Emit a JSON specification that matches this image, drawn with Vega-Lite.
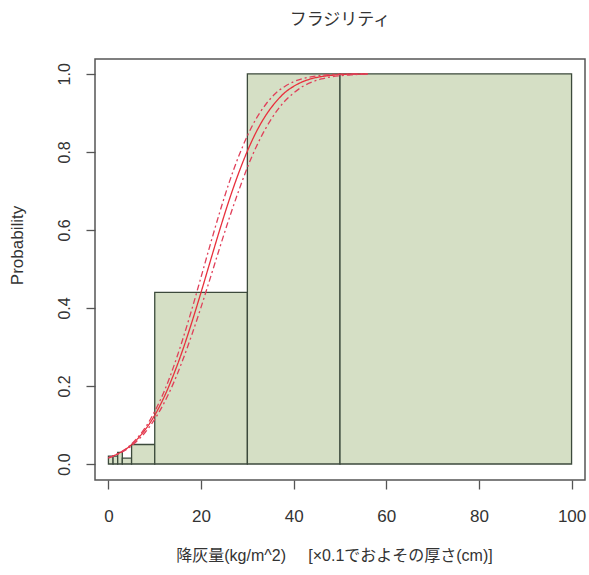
{
  "$schema": "https://vega.github.io/schema/vega-lite/v6.json",
  "width": 490,
  "height": 421,
  "autosize": "none",
  "padding": {"left": 95, "top": 59, "right": 4, "bottom": 95},
  "background": "white",
  "config": {
    "font": "Liberation Sans, Noto Sans CJK JP",
    "view": {"stroke": "#555555", "strokeWidth": 1.5},
    "axis": {"grid": false, "domain": false, "tickColor": "#555555", "tickSize": 9, "tickWidth": 1.3, "labelColor": "#333333", "titleColor": "#333333", "labelFont": "Liberation Sans", "titleFontWeight": "normal", "labelFontSize": 16, "titleFontSize": 16}
  },
  "title": {"text": "フラジリティ", "font": "Noto Sans CJK JP", "fontSize": 17, "fontWeight": "normal", "color": "#333333", "anchor": "middle", "offset": 30},
  "datasets": {
    "bars": [
      {"lo": 0, "hi": 1, "p": 0.02},
      {"lo": 1, "hi": 2, "p": 0.02},
      {"lo": 2, "hi": 3, "p": 0.03},
      {"lo": 3, "hi": 5, "p": 0.015},
      {"lo": 5, "hi": 10, "p": 0.05},
      {"lo": 10, "hi": 30, "p": 0.44},
      {"lo": 30, "hi": 50, "p": 1.0},
      {"lo": 50, "hi": 100, "p": 1.0}
    ],
    "curves": [
      {"s": "fit", "x": 0, "p": 0.016}, {"s": "fit", "x": 2, "p": 0.026}, {"s": "fit", "x": 4, "p": 0.040}, {"s": "fit", "x": 6, "p": 0.061}, {"s": "fit", "x": 8, "p": 0.089}, {"s": "fit", "x": 10, "p": 0.125}, {"s": "fit", "x": 12, "p": 0.171}, {"s": "fit", "x": 14, "p": 0.227}, {"s": "fit", "x": 16, "p": 0.291}, {"s": "fit", "x": 18, "p": 0.363}, {"s": "fit", "x": 20, "p": 0.440}, {"s": "fit", "x": 22, "p": 0.520}, {"s": "fit", "x": 24, "p": 0.599}, {"s": "fit", "x": 26, "p": 0.674}, {"s": "fit", "x": 28, "p": 0.742}, {"s": "fit", "x": 30, "p": 0.802}, {"s": "fit", "x": 32, "p": 0.853}, {"s": "fit", "x": 34, "p": 0.894}, {"s": "fit", "x": 36, "p": 0.926}, {"s": "fit", "x": 38, "p": 0.951}, {"s": "fit", "x": 40, "p": 0.968}, {"s": "fit", "x": 42, "p": 0.980}, {"s": "fit", "x": 44, "p": 0.988}, {"s": "fit", "x": 46, "p": 0.993}, {"s": "fit", "x": 48, "p": 0.996}, {"s": "fit", "x": 50, "p": 0.998}, {"s": "fit", "x": 52, "p": 0.999}, {"s": "fit", "x": 54, "p": 0.9994}, {"s": "fit", "x": 56, "p": 0.9997},
      {"s": "upper", "x": 0, "p": 0.015}, {"s": "upper", "x": 2, "p": 0.026}, {"s": "upper", "x": 4, "p": 0.041}, {"s": "upper", "x": 6, "p": 0.064}, {"s": "upper", "x": 8, "p": 0.094}, {"s": "upper", "x": 10, "p": 0.135}, {"s": "upper", "x": 12, "p": 0.185}, {"s": "upper", "x": 14, "p": 0.247}, {"s": "upper", "x": 16, "p": 0.318}, {"s": "upper", "x": 18, "p": 0.396}, {"s": "upper", "x": 20, "p": 0.479}, {"s": "upper", "x": 22, "p": 0.563}, {"s": "upper", "x": 24, "p": 0.644}, {"s": "upper", "x": 26, "p": 0.719}, {"s": "upper", "x": 28, "p": 0.785}, {"s": "upper", "x": 30, "p": 0.841}, {"s": "upper", "x": 32, "p": 0.887}, {"s": "upper", "x": 34, "p": 0.922}, {"s": "upper", "x": 36, "p": 0.949}, {"s": "upper", "x": 38, "p": 0.967}, {"s": "upper", "x": 40, "p": 0.980}, {"s": "upper", "x": 42, "p": 0.988}, {"s": "upper", "x": 44, "p": 0.993}, {"s": "upper", "x": 46, "p": 0.996}, {"s": "upper", "x": 48, "p": 0.998}, {"s": "upper", "x": 50, "p": 0.999}, {"s": "upper", "x": 52, "p": 0.9995}, {"s": "upper", "x": 54, "p": 0.9998}, {"s": "upper", "x": 56, "p": 0.9999},
      {"s": "lower", "x": 0, "p": 0.016}, {"s": "lower", "x": 2, "p": 0.025}, {"s": "lower", "x": 4, "p": 0.038}, {"s": "lower", "x": 6, "p": 0.057}, {"s": "lower", "x": 8, "p": 0.082}, {"s": "lower", "x": 10, "p": 0.115}, {"s": "lower", "x": 12, "p": 0.156}, {"s": "lower", "x": 14, "p": 0.206}, {"s": "lower", "x": 16, "p": 0.265}, {"s": "lower", "x": 18, "p": 0.331}, {"s": "lower", "x": 20, "p": 0.402}, {"s": "lower", "x": 22, "p": 0.477}, {"s": "lower", "x": 24, "p": 0.553}, {"s": "lower", "x": 26, "p": 0.627}, {"s": "lower", "x": 28, "p": 0.696}, {"s": "lower", "x": 30, "p": 0.760}, {"s": "lower", "x": 32, "p": 0.815}, {"s": "lower", "x": 34, "p": 0.861}, {"s": "lower", "x": 36, "p": 0.899}, {"s": "lower", "x": 38, "p": 0.929}, {"s": "lower", "x": 40, "p": 0.951}, {"s": "lower", "x": 42, "p": 0.968}, {"s": "lower", "x": 44, "p": 0.979}, {"s": "lower", "x": 46, "p": 0.987}, {"s": "lower", "x": 48, "p": 0.992}, {"s": "lower", "x": 50, "p": 0.995}, {"s": "lower", "x": 52, "p": 0.997}, {"s": "lower", "x": 54, "p": 0.9986}, {"s": "lower", "x": 56, "p": 0.9993}
    ]
  },
  "layer": [
    {
      "data": {"name": "bars"},
      "mark": {"type": "rect", "fill": "#d5dfc5", "stroke": "#3c4a3c", "strokeWidth": 1.3},
      "encoding": {
        "x": {"field": "lo", "type": "quantitative", "scale": {"domain": [-2.9, 102.9], "nice": false, "zero": false},
              "axis": {"values": [0, 20, 40, 60, 80, 100], "labelPadding": 19, "labelFontSize": 17,
                       "title": "降灰量(kg/m^2)\u00a0\u00a0\u00a0\u00a0\u00a0[×0.1でおよその厚さ(cm)]", "titleFont": "Liberation Sans, Noto Sans CJK JP", "titleFontSize": 16, "titleX": 239, "titleY": 75, "titleBaseline": "middle"}},
        "x2": {"field": "hi"},
        "y": {"field": "p", "type": "quantitative", "scale": {"domain": [-0.041, 1.038], "nice": false, "zero": false},
              "axis": {"values": [0, 0.2, 0.4, 0.6, 0.8, 1.0], "format": ".1f", "labelAngle": 270, "labelAlign": "center", "labelBaseline": "bottom", "labelPadding": 14,
                       "title": "Probability", "titleX": -78, "titleY": 186, "titleAngle": 270, "titleAlign": "center", "titleBaseline": "middle", "titleFontSize": 17}},
        "y2": {"datum": 0}
      }
    },
    {
      "data": {"name": "curves"},
      "mark": {"type": "line", "strokeWidth": 1.3, "interpolate": "monotone"},
      "encoding": {
        "x": {"field": "x", "type": "quantitative"},
        "y": {"field": "p", "type": "quantitative"},
        "detail": {"field": "s"},
        "color": {"field": "s", "type": "nominal", "legend": null, "scale": {"domain": ["fit", "upper", "lower"], "range": ["#e8303c", "#e0405a", "#e0405a"]}},
        "strokeDash": {"field": "s", "type": "nominal", "legend": null, "scale": {"domain": ["fit", "upper", "lower"], "range": [[1, 0], [6, 3, 2, 3], [6, 3, 2, 3]]}}
      }
    }
  ]
}
